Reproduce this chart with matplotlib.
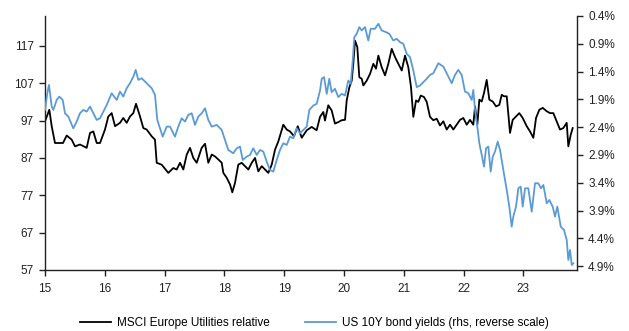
import matplotlib
matplotlib.use("Agg")
import matplotlib.pyplot as plt
from matplotlib.ticker import FixedLocator, FuncFormatter

plt.rcParams['font.family'] = ['Liberation Sans', 'DejaVu Sans']
plt.rcParams['font.size'] = 8.5

# MSCI Europe Utilities relative performance (time in years since start of 2015)
util_t = [0.000, 0.072, 0.112, 0.167, 0.268, 0.301, 0.363, 0.446, 0.502, 0.585, 0.697, 0.753,
          0.808, 0.865, 0.920, 1.003, 1.059, 1.115, 1.171, 1.254, 1.309, 1.366, 1.421, 1.477,
          1.522, 1.589, 1.644, 1.701, 1.784, 1.839, 1.868, 1.951, 2.062, 2.145, 2.202, 2.258,
          2.313, 2.370, 2.425, 2.480, 2.537, 2.620, 2.676, 2.731, 2.788, 2.843, 2.898, 2.955,
          2.982, 3.038, 3.094, 3.132, 3.177, 3.232, 3.289, 3.344, 3.400, 3.457, 3.512, 3.567,
          3.624, 3.679, 3.734, 3.791, 3.846, 3.901, 3.985, 4.042, 4.097, 4.164, 4.226, 4.293,
          4.348, 4.376, 4.460, 4.542, 4.599, 4.654, 4.682, 4.737, 4.794, 4.849, 4.905, 4.962,
          5.017, 5.045, 5.089, 5.129, 5.155, 5.184, 5.222, 5.256, 5.296, 5.323, 5.380, 5.435,
          5.490, 5.535, 5.574, 5.630, 5.686, 5.741, 5.798, 5.853, 5.908, 5.965, 6.020, 6.075,
          6.120, 6.159, 6.204, 6.242, 6.283, 6.338, 6.383, 6.438, 6.493, 6.550, 6.605, 6.661,
          6.717, 6.773, 6.828, 6.885, 6.940, 6.995, 7.052, 7.107, 7.162, 7.191, 7.229, 7.263,
          7.303, 7.341, 7.386, 7.430, 7.487, 7.542, 7.597, 7.637, 7.676, 7.721, 7.776, 7.821,
          7.876, 7.931, 7.988, 8.055, 8.110, 8.166, 8.211, 8.266, 8.323, 8.390, 8.445, 8.500,
          8.557, 8.612, 8.667, 8.724, 8.751, 8.791, 8.824]
util_v = [96.8, 99.9, 95.5, 91.0, 91.0, 91.0, 93.0, 91.9, 90.1, 90.6, 89.7, 93.7,
          94.1, 91.0, 91.0, 94.6, 98.1, 99.0, 95.5, 96.4, 97.7, 96.4, 98.1, 99.0,
          101.5, 98.1, 95.0, 94.6, 92.8, 91.9, 85.7, 85.2, 83.0, 84.3, 83.9, 85.7,
          83.9, 87.9, 89.7, 87.0, 85.7, 89.7, 90.8, 85.7, 87.9, 87.4, 86.6, 85.7,
          83.0, 81.7, 79.9, 77.8, 80.3, 85.2, 85.7, 84.8, 83.9, 85.7, 87.0, 83.4,
          84.8, 83.9, 83.0, 85.2, 89.2, 91.4, 95.9, 94.6, 94.1, 92.8, 95.5, 92.4,
          93.7, 94.4, 95.3, 94.4, 98.0, 99.3, 97.0, 101.1, 99.7, 96.2, 96.6, 97.1,
          97.2, 102.4, 105.9, 107.7, 112.2, 118.4, 116.7, 108.6, 108.2, 106.4, 107.7, 109.5,
          112.2, 110.9, 114.4, 111.3, 109.1, 112.2, 116.2, 114.0, 112.2, 110.4, 114.4, 111.3,
          106.0, 98.0, 102.4, 102.0, 103.7, 103.3, 102.0, 98.0, 97.1, 97.5, 95.7, 96.8,
          94.6, 95.9, 94.6, 95.9, 97.2, 97.7, 95.9, 97.2, 95.9, 100.8, 95.9, 102.6,
          102.1, 104.4, 107.9, 102.6, 102.1, 100.8, 101.2, 103.9, 103.5, 103.5, 93.7, 97.2,
          98.1, 99.0, 97.7, 95.5, 94.1, 92.4, 97.7, 99.9, 100.4, 99.5, 99.0, 99.0,
          96.8, 94.6, 95.0, 96.4, 90.1, 93.2, 95.0]

# US 10Y government bond yield, %
ust_t = [0.000, 0.038, 0.067, 0.112, 0.139, 0.196, 0.239, 0.296, 0.334, 0.390, 0.473, 0.530,
         0.585, 0.640, 0.697, 0.753, 0.808, 0.865, 0.920, 0.975, 1.032, 1.115, 1.199, 1.254,
         1.309, 1.366, 1.421, 1.477, 1.517, 1.560, 1.617, 1.701, 1.784, 1.839, 1.878, 1.923,
         1.968, 2.035, 2.090, 2.174, 2.229, 2.286, 2.341, 2.396, 2.453, 2.508, 2.564, 2.620,
         2.676, 2.731, 2.788, 2.871, 2.955, 3.010, 3.065, 3.149, 3.206, 3.261, 3.306, 3.373,
         3.428, 3.483, 3.540, 3.595, 3.651, 3.707, 3.763, 3.818, 3.875, 3.930, 3.985, 4.042,
         4.097, 4.152, 4.209, 4.264, 4.319, 4.376, 4.420, 4.487, 4.543, 4.599, 4.627, 4.666,
         4.711, 4.754, 4.794, 4.849, 4.905, 4.962, 5.017, 5.072, 5.112, 5.146, 5.172, 5.212,
         5.256, 5.296, 5.351, 5.406, 5.446, 5.518, 5.574, 5.630, 5.702, 5.758, 5.824, 5.881,
         5.936, 5.992, 6.048, 6.104, 6.159, 6.216, 6.271, 6.326, 6.383, 6.438, 6.493, 6.577,
         6.661, 6.744, 6.801, 6.856, 6.911, 6.968, 7.023, 7.079, 7.135, 7.162, 7.191, 7.229,
         7.263, 7.303, 7.341, 7.375, 7.413, 7.453, 7.487, 7.525, 7.570, 7.609, 7.664, 7.721,
         7.764, 7.804, 7.831, 7.876, 7.915, 7.955, 7.988, 8.027, 8.082, 8.139, 8.194, 8.249,
         8.294, 8.333, 8.390, 8.433, 8.490, 8.528, 8.567, 8.624, 8.679, 8.724, 8.751, 8.779,
         8.808, 8.834]
ust_v = [2.09, 1.79, 1.64, 2.03, 2.09, 1.91, 1.85, 1.91, 2.15, 2.21, 2.42, 2.30,
         2.15, 2.09, 2.12, 2.03, 2.15, 2.27, 2.24, 2.12, 2.00, 1.79, 1.91, 1.76,
         1.85, 1.70, 1.61, 1.49, 1.37, 1.55, 1.52, 1.61, 1.70, 1.82, 2.27, 2.42,
         2.57, 2.39, 2.39, 2.57, 2.39, 2.24, 2.30, 2.18, 2.15, 2.36, 2.21, 2.15,
         2.06, 2.27, 2.39, 2.36, 2.45, 2.63, 2.81, 2.87, 2.78, 2.75, 2.99, 2.93,
         2.90, 2.78, 2.90, 2.81, 2.84, 3.02, 3.17, 3.20, 2.99, 2.81, 2.69, 2.72,
         2.57, 2.60, 2.42, 2.51, 2.45, 2.39, 2.09, 2.01, 1.98, 1.74, 1.53, 1.50,
         1.80, 1.53, 1.77, 1.71, 1.86, 1.80, 1.83, 1.56, 1.62, 1.20, 0.78, 0.72,
         0.60, 0.66, 0.60, 0.84, 0.63, 0.63, 0.54, 0.66, 0.69, 0.72, 0.84, 0.81,
         0.87, 0.90, 1.08, 1.14, 1.38, 1.68, 1.65, 1.59, 1.53, 1.46, 1.43, 1.25,
         1.31, 1.49, 1.61, 1.46, 1.37, 1.46, 1.76, 1.79, 1.91, 1.73, 2.09, 2.39,
         2.69, 2.90, 3.11, 2.78, 2.75, 3.20, 2.93, 2.84, 2.66, 2.81, 3.17, 3.53,
         3.83, 4.19, 4.01, 3.83, 3.50, 3.47, 3.83, 3.50, 3.50, 3.92, 3.41, 3.41,
         3.50, 3.44, 3.77, 3.71, 3.83, 4.01, 3.83, 4.19, 4.25, 4.43, 4.79, 4.61,
         4.88, 4.85]

start_year = 2015
year_ticks = list(range(2015, 2024))
left_ticks = [57, 67, 77, 87, 97, 107, 117]
right_ticks = [0.4, 0.9, 1.4, 1.9, 2.4, 2.9, 3.4, 3.9, 4.4, 4.9]

util_x = [start_year + t for t in util_t]
ust_x = [start_year + t for t in ust_t]

fig = plt.figure(figsize=(6.29, 3.31), dpi=100)
ax = fig.add_axes([45 / 629, 1 - 270 / 331, (577 - 45) / 629, (270 - 16) / 331])
ax2 = ax.twinx()

black_line, = ax.plot(util_x, util_v, color='black', lw=1.3,
                      label='MSCI Europe Utilities relative')
blue_line, = ax2.plot(ust_x, ust_v, color='#5B9BD5', lw=1.3,
                      label='US 10Y bond yields (rhs, reverse scale)')

ax.set_xlim(2015.0, 2023.896)
ax.set_ylim(57, 125)
ax2.set_ylim(4.97, 0.4)

ax.xaxis.set_major_locator(FixedLocator(year_ticks))
ax.xaxis.set_major_formatter(FuncFormatter(lambda v, p: f"{int(round(v)) % 100:d}"))
ax.yaxis.set_major_locator(FixedLocator(left_ticks))
ax2.yaxis.set_major_locator(FixedLocator(right_ticks))
ax2.yaxis.set_major_formatter(FuncFormatter(lambda v, p: f"{v:.1f}%"))

for a in (ax, ax2):
    a.spines['top'].set_visible(False)
    for s in ('left', 'right', 'bottom'):
        a.spines[s].set_linewidth(1.0)
        a.spines[s].set_color('#222222')
    a.tick_params(direction='out', length=4, width=1.0, color='#222222',
                  labelcolor='#222222', labelsize=8.5)
ax2.spines['left'].set_visible(False)
ax2.spines['bottom'].set_visible(False)
ax.spines['right'].set_visible(False)
ax.tick_params(axis='x', pad=5)
ax.tick_params(axis='y', pad=4)
ax2.tick_params(axis='y', pad=4)

fig.legend(handles=[black_line, blue_line], loc='center', bbox_to_anchor=(0.5, 0.025),
           ncol=2, frameon=False, handlelength=2.6, columnspacing=3.0,
           handletextpad=0.5, fontsize=8.5)

fig.savefig('out.png', dpi=100)
